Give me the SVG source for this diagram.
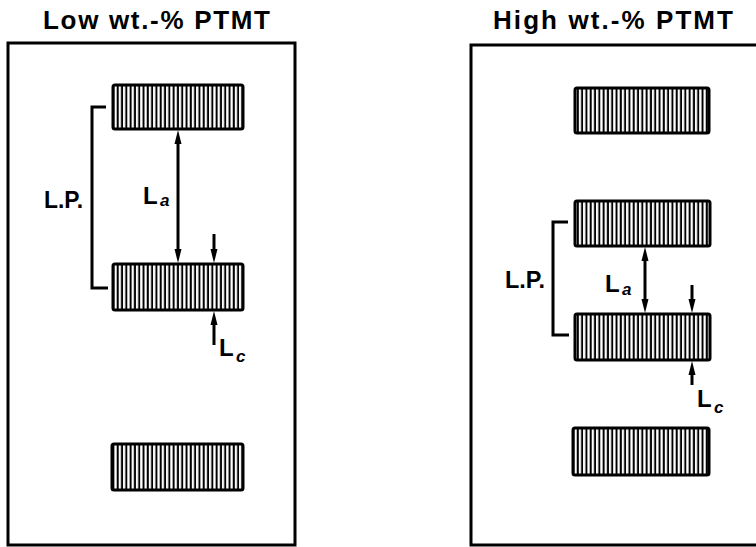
<svg xmlns="http://www.w3.org/2000/svg" width="756" height="547" viewBox="0 0 756 547">
<defs>
<pattern id="hatch" patternUnits="userSpaceOnUse" width="4.3" height="10">
<rect x="0" y="0" width="4.3" height="10" fill="#fff"/>
<rect x="0.6" y="0" width="2" height="10" fill="#000"/>
</pattern>
</defs>
<style>
.frame{fill:none;stroke:#000;stroke-width:3}
.bar{fill:url(#hatch);stroke:#000;stroke-width:3}
.ln{fill:none;stroke:#000;stroke-width:3}
.head{fill:#000;stroke:none}
.title{font-family:"Liberation Sans",Arial,sans-serif;font-weight:bold;font-size:26px;fill:#000}
.lab{font-family:"Liberation Sans",Arial,sans-serif;font-weight:bold;font-size:24px;fill:#000}
.sub{font-family:"Liberation Sans",Arial,sans-serif;font-weight:bold;font-style:italic;font-size:17px;fill:#000}
</style>

<g id="left-panel">
<text class="title" x="43" y="29" textLength="227" lengthAdjust="spacing">Low wt.-% PTMT</text>
<rect class="frame" x="8" y="43" width="287" height="502"/>
</g>
<g id="left-bar1"><rect class="bar" x="113" y="85" width="130" height="44" rx="2"/></g>
<g id="left-bar2"><rect class="bar" x="113" y="264" width="130" height="46" rx="2"/></g>
<g id="left-bar3"><rect class="bar" x="112" y="444" width="131" height="46" rx="2"/></g>
<g id="left-labels">
<text class="lab" x="44" y="208" textLength="39" lengthAdjust="spacingAndGlyphs">L.P.</text>
<text class="lab" x="143" y="204">L</text><text class="sub" x="160" y="206">a</text>
<text class="lab" x="219" y="356">L</text><text class="sub" x="236" y="362">c</text>
</g>

<g id="right-panel">
<text class="title" x="493" y="29" textLength="240" lengthAdjust="spacing">High wt.-% PTMT</text>
<path class="frame" d="M760,45 H471 V545 H760"/>
</g>
<g id="right-bar1"><rect class="bar" x="575" y="88" width="134" height="45" rx="2"/></g>
<g id="right-bar2"><rect class="bar" x="575" y="201" width="135" height="45" rx="2"/></g>
<g id="right-bar3"><rect class="bar" x="575" y="314" width="135" height="46" rx="2"/></g>
<g id="right-bar4"><rect class="bar" x="573" y="428" width="136" height="47" rx="2"/></g>
<g id="right-labels">
<text class="lab" x="505" y="288" textLength="40" lengthAdjust="spacingAndGlyphs">L.P.</text>
<text class="lab" x="605" y="292">L</text><text class="sub" x="622" y="295">a</text>
<text class="lab" x="697" y="407">L</text><text class="sub" x="714" y="413">c</text>
</g>

<g id="connectors">
<path class="ln" d="M106,107 H92 V288 H108"/>
<line class="ln" x1="178" y1="140" x2="178" y2="252"/>
<path class="head" d="M178,130 L174.5,144 L181.5,144 Z"/>
<path class="head" d="M178,263 L174.5,249 L181.5,249 Z"/>
<line class="ln" x1="214" y1="234" x2="214" y2="252"/>
<path class="head" d="M214,263 L210.5,249 L217.5,249 Z"/>
<line class="ln" x1="214" y1="321" x2="214" y2="345"/>
<path class="head" d="M214,311 L210.5,325 L217.5,325 Z"/>
<path class="ln" d="M568,222 H553 V335 H569"/>
<line class="ln" x1="645" y1="256" x2="645" y2="302"/>
<path class="head" d="M645,247 L641.5,261 L648.5,261 Z"/>
<path class="head" d="M645,313 L641.5,299 L648.5,299 Z"/>
<line class="ln" x1="692" y1="285" x2="692" y2="302"/>
<path class="head" d="M692,313 L688.5,299 L695.5,299 Z"/>
<line class="ln" x1="692" y1="371" x2="692" y2="385"/>
<path class="head" d="M692,361 L688.5,375 L695.5,375 Z"/>
</g>
</svg>
